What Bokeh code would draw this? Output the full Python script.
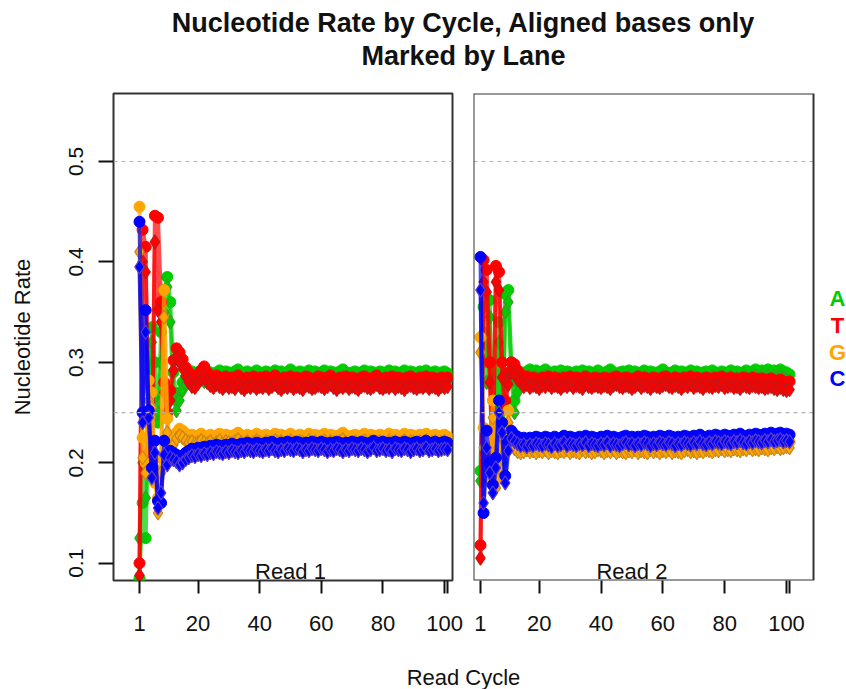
from bokeh.plotting import figure
from bokeh.models import Range1d, Span, Label, FixedTicker, BoxAnnotation
from bokeh.layouts import column, row
from bokeh.embed import file_html
from bokeh.resources import INLINE

# ---------------- data (nucleotide rate, in thousandths, cycles 1..101) ----------------
cycles = list(range(1, 102))
bases = ["A", "T", "G", "C"]
base_colors = {"A": "#00CD00", "T": "#FF0000", "G": "#FFA500", "C": "#0000FF"}
accent_colors = {"A": "#3C9A2A", "T": "#C01818", "G": "#C9861A", "C": "#5A3CC8"}
x_ticks = [1, 20, 40, 60, 80, 100, 101]
y_ticks = [0.1, 0.2, 0.3, 0.4, 0.5]
ref_lines = [0.25, 0.5]
read_names = ["Read 1", "Read 2"]

r1_A_lane1 = [85, 160, 125, 250, 335, 300, 240, 330, 372, 385,
              360, 290, 262, 270, 280, 285, 289, 291, 288, 290,
              292, 289, 291, 290, 287, 290, 292, 289, 291, 290,
              288, 291, 293, 290, 289, 291, 288, 290, 292, 290,
              289, 291, 290, 288, 292, 290, 291, 289, 290, 293,
              290, 288, 291, 290, 289, 292, 290, 291, 288, 290,
              292, 289, 291, 290, 288, 291, 293, 290, 289, 290,
              291, 288, 290, 292, 289, 291, 290, 288, 291, 290,
              289, 292, 290, 291, 288, 290, 292, 289, 291, 290,
              288, 291, 290, 292, 289, 290, 291, 288, 290, 291,
              289]
r1_A_lane2 = [125, 200, 165, 280, 320, 265, 250, 300, 350, 375,
              340, 268, 252, 262, 272, 278, 282, 280, 283, 282,
              284, 281, 283, 282, 280, 283, 284, 281, 283, 282,
              281, 283, 285, 282, 281, 283, 280, 282, 284, 282,
              281, 283, 282, 280, 284, 282, 283, 281, 282, 285,
              282, 280, 283, 282, 281, 284, 282, 283, 280, 282,
              284, 281, 283, 282, 280, 283, 285, 282, 281, 282,
              283, 280, 282, 284, 281, 283, 282, 280, 283, 282,
              281, 284, 282, 283, 280, 282, 284, 281, 283, 282,
              280, 283, 282, 284, 281, 282, 283, 280, 282, 283,
              281]
r1_T_lane1 = [100, 432, 415, 210, 190, 446, 444, 360, 280, 250,
              272, 302, 314, 310, 303, 295, 290, 286, 284, 288,
              292, 296, 290, 286, 284, 287, 285, 283, 286, 284,
              285, 283, 287, 284, 282, 285, 284, 286, 283, 285,
              284, 286, 283, 285, 287, 284, 282, 285, 284, 286,
              283, 285, 284, 282, 286, 285, 283, 284, 286, 285,
              283, 285, 287, 284, 282, 285, 284, 286, 283, 285,
              284, 282, 285, 286, 284, 283, 285, 287, 284, 283,
              285, 284, 286, 283, 285, 284, 282, 285, 286, 284,
              283, 285, 284, 286, 283, 285, 284, 282, 285, 284,
              285]
r1_T_lane2 = [88, 400, 390, 240, 200, 420, 352, 340, 270, 245,
              262, 292, 305, 300, 294, 286, 280, 276, 275, 279,
              283, 285, 280, 277, 275, 278, 276, 274, 277, 275,
              276, 274, 278, 275, 273, 276, 275, 277, 274, 276,
              275, 277, 274, 276, 278, 275, 273, 276, 275, 277,
              274, 276, 275, 273, 277, 276, 274, 275, 277, 276,
              274, 276, 278, 275, 273, 276, 275, 277, 274, 276,
              275, 273, 276, 277, 275, 274, 276, 278, 275, 274,
              276, 275, 277, 274, 276, 275, 273, 276, 277, 275,
              274, 276, 275, 277, 274, 276, 275, 273, 276, 275,
              276]
r1_G_lane1 = [455, 225, 200, 282, 270, 180, 165, 205, 372, 244,
              222, 226, 230, 234, 232, 229, 227, 228, 226, 227,
              229, 227, 226, 228, 225, 227, 229, 226, 228, 227,
              226, 228, 230, 227, 226, 228, 225, 227, 229, 227,
              226, 228, 227, 225, 229, 227, 228, 226, 227, 229,
              227, 225, 228, 227, 226, 229, 227, 228, 225, 227,
              229, 226, 228, 227, 225, 228, 230, 227, 226, 227,
              228, 225, 227, 229, 226, 228, 227, 225, 228, 227,
              226, 229, 227, 228, 225, 227, 229, 226, 228, 227,
              225, 228, 227, 229, 226, 227, 228, 225, 227, 228,
              226]
r1_G_lane2 = [410, 205, 190, 262, 255, 195, 150, 190, 345, 230,
              215, 218, 224, 227, 225, 222, 220, 221, 219, 220,
              222, 220, 219, 221, 218, 220, 222, 219, 221, 220,
              219, 221, 223, 220, 219, 221, 218, 220, 222, 220,
              219, 221, 220, 218, 222, 220, 221, 219, 220, 222,
              220, 218, 221, 220, 219, 222, 220, 221, 218, 220,
              222, 219, 221, 220, 218, 221, 223, 220, 219, 220,
              221, 218, 220, 222, 219, 221, 220, 218, 221, 220,
              219, 222, 220, 221, 218, 220, 222, 219, 221, 220,
              218, 221, 220, 222, 219, 220, 221, 218, 220, 221,
              219]
r1_C_lane1 = [440, 250, 352, 252, 195, 222, 162, 160, 222, 205,
              212, 210, 208, 204, 207, 210, 212, 214, 213, 215,
              214, 216, 215, 217, 216, 218, 217, 216, 218, 217,
              219, 218, 217, 219, 218, 220, 219, 218, 220, 219,
              218, 220, 219, 221, 219, 218, 220, 219, 221, 220,
              219, 221, 220, 218, 220, 219, 221, 220, 219, 221,
              220, 218, 220, 219, 221, 220, 218, 220, 219, 221,
              220, 219, 221, 220, 218, 220, 222, 219, 220, 221,
              219, 220, 218, 221, 220, 219, 221, 220, 218, 220,
              221, 219, 220, 222, 219, 220, 221, 219, 220, 221,
              220]
r1_C_lane2 = [395, 240, 330, 245, 185, 210, 155, 170, 208, 198,
              205, 203, 201, 198, 200, 203, 205, 207, 206, 208,
              207, 209, 208, 210, 209, 211, 210, 209, 211, 210,
              212, 211, 210, 212, 211, 213, 212, 211, 213, 212,
              211, 213, 212, 214, 212, 211, 213, 212, 214, 213,
              212, 214, 213, 211, 213, 212, 214, 213, 212, 214,
              213, 211, 213, 212, 214, 213, 211, 213, 212, 214,
              213, 212, 214, 213, 211, 213, 215, 212, 213, 214,
              212, 213, 211, 214, 213, 212, 214, 213, 211, 213,
              214, 212, 213, 215, 212, 213, 214, 212, 213, 214,
              213]

r2_A_lane1 = [192, 355, 300, 362, 205, 250, 340, 210, 368, 372,
              300, 262, 280, 290, 288, 291, 293, 290, 292, 289,
              291, 293, 290, 288, 291, 290, 292, 289, 291, 290,
              288, 291, 290, 292, 289, 291, 290, 288, 292, 290,
              289, 291, 293, 290, 288, 290, 291, 289, 292, 290,
              291, 288, 290, 292, 289, 291, 290, 288, 291, 293,
              290, 289, 290, 292, 288, 291, 290, 289, 292, 290,
              291, 288, 290, 291, 289, 292, 290, 288, 291, 290,
              289, 292, 290, 291, 289, 290, 292, 290, 291, 293,
              290, 292, 291, 293, 290, 292, 291, 293, 291, 290,
              288]
r2_A_lane2 = [182, 330, 280, 345, 190, 240, 320, 200, 350, 360,
              285, 250, 270, 282, 281, 284, 286, 283, 285, 282,
              284, 286, 283, 281, 284, 283, 285, 282, 284, 283,
              281, 284, 283, 285, 282, 284, 283, 281, 285, 283,
              282, 284, 286, 283, 281, 283, 284, 282, 285, 283,
              284, 281, 283, 285, 282, 284, 283, 281, 284, 286,
              283, 282, 283, 285, 281, 284, 283, 282, 285, 283,
              284, 281, 283, 284, 282, 285, 283, 281, 284, 283,
              282, 285, 283, 284, 282, 283, 285, 283, 284, 286,
              283, 285, 284, 286, 283, 285, 284, 286, 284, 283,
              281]
r2_T_lane1 = [118, 402, 392, 300, 210, 396, 390, 300, 262, 290,
              300, 298, 292, 288, 284, 286, 283, 285, 284, 282,
              285, 284, 286, 283, 285, 284, 282, 285, 284, 286,
              283, 285, 284, 282, 286, 284, 283, 285, 284, 283,
              285, 284, 282, 285, 286, 284, 283, 285, 284, 282,
              284, 286, 283, 285, 284, 282, 285, 284, 283, 285,
              286, 284, 283, 285, 284, 282, 285, 284, 286, 283,
              285, 284, 282, 285, 284, 283, 285, 284, 286, 283,
              284, 285, 283, 284, 282, 285, 284, 283, 285, 284,
              283, 284, 282, 283, 284, 282, 281, 283, 281, 280,
              281]
r2_T_lane2 = [105, 380, 370, 280, 200, 380, 372, 285, 255, 278,
              290, 288, 283, 280, 276, 278, 275, 277, 276, 274,
              277, 276, 278, 275, 277, 276, 274, 277, 276, 278,
              275, 277, 276, 274, 278, 276, 275, 277, 276, 275,
              277, 276, 274, 277, 278, 276, 275, 277, 276, 274,
              276, 278, 275, 277, 276, 274, 277, 276, 275, 277,
              278, 276, 275, 277, 276, 274, 277, 276, 278, 275,
              277, 276, 274, 277, 276, 275, 277, 276, 278, 275,
              276, 277, 275, 276, 274, 277, 276, 275, 277, 276,
              275, 276, 274, 275, 276, 274, 273, 275, 273, 272,
              273]
r2_G_lane1 = [325, 235, 205, 190, 262, 182, 205, 240, 225, 252,
              230, 222, 218, 216, 217, 219, 217, 218, 216, 218,
              217, 219, 216, 218, 217, 216, 218, 217, 219, 216,
              218, 217, 216, 219, 217, 218, 216, 217, 219, 218,
              216, 218, 217, 219, 216, 218, 217, 216, 218, 217,
              219, 216, 218, 217, 216, 219, 217, 218, 216, 218,
              217, 219, 216, 218, 217, 216, 218, 219, 217, 218,
              216, 218, 217, 219, 218, 217, 219, 218, 220, 218,
              219, 218, 220, 219, 218, 220, 219, 221, 219, 220,
              219, 221, 220, 219, 221, 220, 222, 220, 221, 222,
              221]
r2_G_lane2 = [310, 215, 195, 180, 245, 175, 195, 225, 210, 240,
              220, 214, 211, 210, 211, 213, 211, 212, 210, 212,
              211, 213, 210, 212, 211, 210, 212, 211, 213, 210,
              212, 211, 210, 213, 211, 212, 210, 211, 213, 212,
              210, 212, 211, 213, 210, 212, 211, 210, 212, 211,
              213, 210, 212, 211, 210, 213, 211, 212, 210, 212,
              211, 213, 210, 212, 211, 210, 212, 213, 211, 212,
              210, 212, 211, 213, 212, 211, 213, 212, 214, 212,
              213, 212, 214, 213, 212, 214, 213, 215, 213, 214,
              213, 215, 214, 213, 215, 214, 216, 214, 215, 216,
              215]
r2_C_lane1 = [405, 150, 232, 200, 178, 205, 262, 240, 187, 222,
              232, 228, 226, 224, 225, 223, 225, 224, 226, 225,
              224, 226, 225, 223, 226, 224, 225, 227, 224, 226,
              225, 224, 226, 225, 227, 224, 226, 225, 224, 226,
              225, 227, 224, 226, 225, 224, 226, 227, 225, 226,
              224, 226, 225, 227, 226, 224, 226, 225, 227, 226,
              225, 227, 226, 224, 226, 225, 227, 226, 225, 227,
              226, 228, 226, 225, 227, 226, 228, 227, 226, 228,
              227, 226, 228, 227, 229, 227, 226, 228, 227, 229,
              228, 227, 229, 228, 230, 228, 229, 230, 228, 229,
              228]
r2_C_lane2 = [372, 160, 215, 190, 170, 195, 250, 230, 180, 212,
              224, 221, 219, 217, 218, 216, 218, 217, 219, 218,
              217, 219, 218, 216, 219, 217, 218, 220, 217, 219,
              218, 217, 219, 218, 220, 217, 219, 218, 217, 219,
              218, 220, 217, 219, 218, 217, 219, 220, 218, 219,
              217, 219, 218, 220, 219, 217, 219, 218, 220, 219,
              218, 220, 219, 217, 219, 218, 220, 219, 218, 220,
              219, 221, 219, 218, 220, 219, 221, 220, 219, 221,
              220, 219, 221, 220, 222, 220, 219, 221, 220, 222,
              221, 220, 222, 221, 223, 221, 222, 223, 221, 222,
              221]

read1 = {"A": [r1_A_lane1, r1_A_lane2], "T": [r1_T_lane1, r1_T_lane2],
         "G": [r1_G_lane1, r1_G_lane2], "C": [r1_C_lane1, r1_C_lane2]}
read2 = {"A": [r2_A_lane1, r2_A_lane2], "T": [r2_T_lane1, r2_T_lane2],
         "G": [r2_G_lane1, r2_G_lane2], "C": [r2_C_lane1, r2_C_lane2]}

FONT = "Liberation Sans"
Y_RANGE = (0.0828, 0.5677)
R2_PANEL_END = 108.74   # right edge of the Read 2 panel box (data units)


def style_axes(p):
    p.xgrid.visible = False
    p.ygrid.visible = False
    p.background_fill_color = "white"
    p.border_fill_color = "white"
    ax = p.xaxis[0]
    ax.ticker = FixedTicker(ticks=x_ticks)
    ax.major_label_overrides = {101: ""}
    ax.axis_line_color = None
    ax.minor_tick_line_color = None
    ax.major_tick_in = 0
    ax.major_tick_out = 13
    ax.major_tick_line_color = "#111111"
    ax.major_tick_line_width = 2
    ax.major_label_standoff = 22
    ax.major_label_text_font = FONT
    ax.major_label_text_font_size = "22px"
    ax.major_label_text_color = "#111111"
    for ref in ref_lines:
        p.add_layout(Span(location=ref, dimension="width", line_color="#B0B0B0",
                          line_width=1.2, line_dash="4 4"))


def draw_read(p, data):
    for b in bases:
        col = base_colors[b]
        for li, lane in enumerate(data[b]):
            ys = [v / 1000.0 for v in lane]
            xs = cycles[:len(ys)]
            p.line(xs, ys, line_color=col, line_width=4, line_alpha=0.7)
            if li == 0:
                p.scatter(xs, ys, marker="circle", size=11, fill_color=col,
                          line_color=col, line_width=1)
            else:
                p.scatter(xs, ys, marker="diamond", size=14, fill_color=col,
                          line_color=accent_colors[b], line_width=1.2)


def panel_label(p, text):
    p.add_layout(Label(x=50, y=Y_RANGE[0] - 0.0035, text=text, text_align="center",
                       text_baseline="bottom", text_font=FONT,
                       text_font_size="22px", text_color="#111111"))


# ---------------- left panel (Read 1) ----------------
left = figure(width=463, height=557, x_range=Range1d(-7.44, 102.59),
              y_range=Range1d(*Y_RANGE), output_backend="svg", toolbar_location=None,
              min_border_left=113, min_border_right=11, min_border_top=5,
              min_border_bottom=65)
style_axes(left)
left.outline_line_color = "#333333"
left.outline_line_width = 2
ya = left.yaxis[0]
ya.ticker = FixedTicker(ticks=y_ticks)
ya.axis_line_color = None
ya.minor_tick_line_color = None
ya.major_tick_in = 0
ya.major_tick_out = 15
ya.major_tick_line_color = "#111111"
ya.major_tick_line_width = 2
ya.major_label_orientation = "vertical"
ya.major_label_standoff = 15
ya.major_label_text_font = FONT
ya.major_label_text_font_size = "21px"
ya.major_label_text_color = "#111111"
ya.axis_label = "Nucleotide Rate"
ya.axis_label_text_font = FONT
ya.axis_label_text_font_size = "22px"
ya.axis_label_text_font_style = "normal"
ya.axis_label_text_color = "#111111"
ya.axis_label_standoff = 32
draw_read(left, read1)
panel_label(left, read_names[0])

# ---------------- right panel (Read 2) + base key ----------------
right = figure(width=383, height=557, x_range=Range1d(-1.26, 119.41),
               y_range=Range1d(*Y_RANGE), output_backend="svg", toolbar_location=None,
               y_axis_location=None, min_border_left=10, min_border_right=0,
               min_border_top=5, min_border_bottom=65)
style_axes(right)
right.outline_line_color = None
draw_read(right, read2)
# blank the area right of the panel box, then draw the panel box
right.add_layout(BoxAnnotation(left=R2_PANEL_END, fill_color="white", fill_alpha=1.0,
                               line_color=None))
right.add_layout(BoxAnnotation(right=R2_PANEL_END, fill_color=None, fill_alpha=0,
                               line_color="#333333", line_alpha=1.0, line_width=2))
panel_label(right, read_names[1])

legend_y = [0.3637, 0.3368, 0.3099, 0.2840]
for b, yy in zip(bases, legend_y):
    right.add_layout(Label(x=116.5, y=yy, text=b, text_align="center",
                           text_baseline="middle", text_font=FONT,
                           text_font_size="22px", text_font_style="bold",
                           text_color=base_colors[b]))

# ---------------- title and x label strips ----------------
def text_strip(h):
    f = figure(width=846, height=h, x_range=Range1d(0, 846), y_range=Range1d(0, h),
               output_backend="svg", toolbar_location=None, min_border=0,
               x_axis_location=None, y_axis_location=None)
    f.xgrid.visible = False
    f.ygrid.visible = False
    f.outline_line_color = None
    f.background_fill_color = "white"
    f.border_fill_color = "white"
    return f

top = text_strip(88)
top.add_layout(Label(x=463, y=66, text="Nucleotide Rate by Cycle, Aligned bases only",
                     text_align="center", text_baseline="middle", text_font=FONT,
                     text_font_size="27px", text_font_style="bold", text_color="#111111"))
top.add_layout(Label(x=463, y=33, text="Marked by Lane",
                     text_align="center", text_baseline="middle", text_font=FONT,
                     text_font_size="27px", text_font_style="bold", text_color="#111111"))

bottom = text_strip(44)
bottom.add_layout(Label(x=463, y=12, text="Read Cycle", text_align="center",
                        text_baseline="middle", text_font=FONT, text_font_size="22px",
                        text_color="#111111"))

layout = column(top, row(left, right), bottom)
open("out.html", "w").write(file_html(layout, INLINE))
